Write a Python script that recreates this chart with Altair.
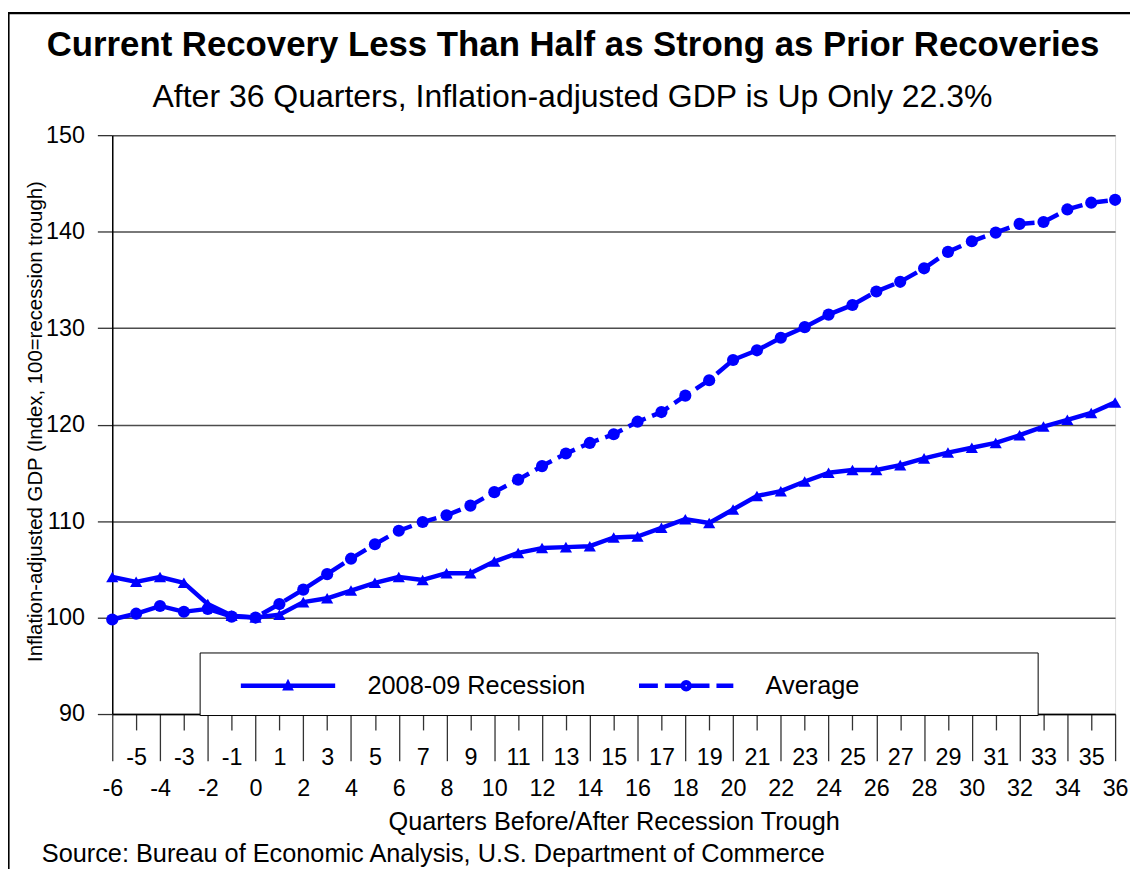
import altair as alt
import pandas as pd

# ---------------- data ----------------
quarters = list(range(-6, 37))
recession_2008 = [104.2, 103.7, 104.2, 103.6, 101.4, 100.2, 100.0, 100.3, 101.6, 102.0,
                  102.8, 103.6, 104.2, 103.9, 104.6, 104.6, 105.8, 106.7, 107.2, 107.3,
                  107.4, 108.3, 108.4, 109.3, 110.2, 109.8, 111.2, 112.6, 113.1, 114.1,
                  115.0, 115.3, 115.3, 115.8, 116.5, 117.1, 117.6, 118.1, 118.9, 119.8,
                  120.5, 121.2, 122.3]
average = [99.8, 100.4, 101.2, 100.6, 100.9, 100.1, 100.0, 101.4, 102.9, 104.5,
           106.1, 107.6, 109.0, 109.9, 110.6, 111.6, 113.0, 114.3, 115.7, 117.0,
           118.1, 119.0, 120.3, 121.3, 123.0, 124.6, 126.7, 127.7, 129.0, 130.1,
           131.4, 132.4, 133.8, 134.8, 136.2, 137.9, 139.0, 139.9, 140.8, 141.0,
           142.3, 143.0, 143.3]
series_names = ["2008-09 Recession", "Average"]
y_ticks = [90, 100, 110, 120, 130, 140, 150]

title_text = "Current Recovery Less Than Half as Strong as Prior Recoveries"
subtitle_text = "After 36 Quarters, Inflation-adjusted GDP is Up Only 22.3%"
x_title = "Quarters Before/After Recession Trough"
y_title = "Inflation-adjusted GDP (Index, 100=recession trough)"
source_text = "Source: Bureau of Economic Analysis, U.S. Department of Commerce"

# ---------------- tables ----------------
df_rec = pd.DataFrame({"quarter": quarters, "gdp": recession_2008, "series": series_names[0]})
df_avg = pd.DataFrame({"quarter": quarters, "gdp": average, "series": series_names[1]})
df_all = pd.concat([df_rec, df_avg], ignore_index=True)

FONT = "Liberation Sans"
BLUE = "#0000ff"
W, H = 1010, 583

x_axis = alt.Axis(
    values=quarters, labelAngle=0, labelOverlap=False, labelFlush=False,
    labelExpr="datum.value + ''",
    tickSize={"condition": {"test": "datum.value % 2 === 0", "value": 47}, "value": 16},
    labelPadding=28, labelBaseline="middle", labelFontSize=23.5, labelColor="black",
    grid=False, domainColor="black", domainWidth=1.5, tickColor="#333333", tickWidth=1.3,
    title=x_title, titleFontSize=25.5, titleFontWeight="normal", titleColor="black",
    titleX=W / 2, titleY=116, titleBaseline="alphabetic", titleAlign="center",
)
y_axis = alt.Axis(
    values=y_ticks, tickSize=15, labelPadding=13, labelFontSize=23.5, labelColor="black",
    grid=True, gridColor="#4d4d4d", gridWidth=1.5, domainColor="black", domainWidth=1.5,
    tickColor="#333333", tickWidth=1.3,
    title=y_title, titleFontSize=20.5, titleFontWeight="normal", titleColor="black",
    titleX=-71, titleY=288, titleAngle=270, titleBaseline="alphabetic", titleAlign="center",
)
X = alt.X("quarter:Q", scale=alt.Scale(domain=[-6, 36], nice=False, zero=False), axis=x_axis)
Y = alt.Y("gdp:Q", scale=alt.Scale(domain=[90, 150], nice=False, zero=False), axis=y_axis)

# frame around the whole chart
frame = alt.Chart(pd.DataFrame({"k": [0]})).mark_rect(
    fillOpacity=0, stroke="black", strokeWidth=2.2
).encode(x=alt.value(-104.5), x2=alt.value(1200), y=alt.value(-123), y2=alt.value(900))

title = alt.Chart(pd.DataFrame({"t": [title_text]})).mark_text(
    font=FONT, fontSize=35, fontWeight="bold", align="center", baseline="alphabetic", color="black"
).encode(x=alt.value(464), y=alt.value(-80), text="t:N")
subtitle = alt.Chart(pd.DataFrame({"t": [subtitle_text]})).mark_text(
    font=FONT, fontSize=32.2, align="center", baseline="alphabetic", color="black"
).encode(x=alt.value(463.5), y=alt.value(-28), text="t:N")
source = alt.Chart(pd.DataFrame({"t": [source_text]})).mark_text(
    font=FONT, fontSize=25.5, align="left", baseline="alphabetic", color="black"
).encode(x=alt.value(-71), y=alt.value(732), text="t:N")

avg_line = alt.Chart(df_avg).mark_line(
    color=BLUE, strokeWidth=4.5, strokeDash=[19, 7], strokeJoin="round"
).encode(x=X, y=Y)
avg_pts = alt.Chart(df_avg).mark_point(
    shape="circle", filled=True, color=BLUE, opacity=1, size=150
).encode(x=X, y=Y)
rec_line = alt.Chart(df_rec).mark_line(
    color=BLUE, strokeWidth=4.5, strokeJoin="round"
).encode(x=X, y=Y)
rec_pts = alt.Chart(df_rec).mark_point(
    shape="triangle-up", filled=True, color=BLUE, opacity=1, size=150
).encode(x=X, y=Y)

# legend symbols: a line (solid / dashed) with the marker in the middle (stroke-drawn)
rec_symbol = "M-3.167,0L3.167,0M0,-0.133L0.15,0.167L-0.15,0.167Z"
avg_symbol = ("M-3.167,0L-1.9,0M-1.433,0L-0.167,0M0.3,0L1.567,0M2.033,0L3.167,0"
              "M0.24,0A0.24,0.24,0,1,1,-0.24,0A0.24,0.24,0,1,1,0.24,0Z"
              "M0.1,0A0.1,0.1,0,1,1,-0.1,0A0.1,0.1,0,1,1,0.1,0Z"
              "M21.9,0")

legend = alt.Legend(
    orient="none", legendX=88, legendY=521, direction="horizontal", columns=2,
    title=None, padding=16, fillColor="white", strokeColor="black",
    symbolSize=900, symbolStrokeWidth=4.5, symbolOffset=55.5, labelOffset=62.5,
    symbolStrokeColor=BLUE, symbolOpacity=1,
    labelFontSize=25.5, labelFont=FONT, labelColor="black", labelBaseline="middle",
    labelLimit=0, columnPadding=28,
)
legend_layer = alt.Chart(df_all).mark_point(
    opacity=0, filled=False, color=BLUE, strokeWidth=4.5
).encode(
    x=X, y=Y,
    shape=alt.Shape("series:N", scale=alt.Scale(domain=series_names, range=[rec_symbol, avg_symbol]),
                    legend=legend),
)

chart = alt.layer(
    frame, title, subtitle, source, avg_line, avg_pts, rec_line, rec_pts, legend_layer
).properties(
    width=W, height=H,
    autosize=alt.AutoSizeParams(type="none"),
    padding={"left": 105, "top": 125, "right": 15, "bottom": 153},
    background="white",
).configure_view(stroke=None).configure(font=FONT)

chart.save("out.html", embed_options={"renderer": "svg", "actions": False})
